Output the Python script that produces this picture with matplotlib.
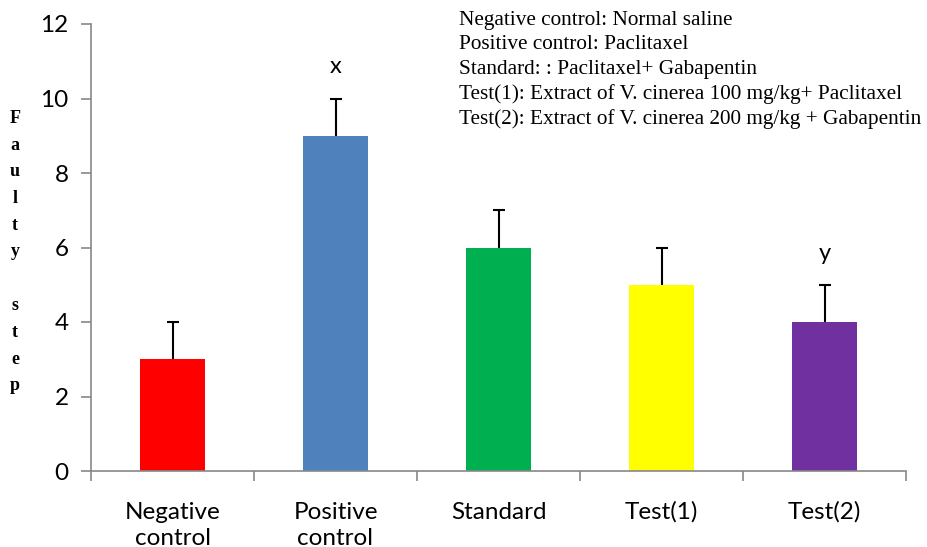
import matplotlib
matplotlib.use("Agg")
import matplotlib.pyplot as plt
import numpy as np

categories = ["Negative\ncontrol", "Positive\ncontrol", "Standard", "Test(1)", "Test(2)"]
values = [3, 9, 6, 5, 4]
errors = [1, 1, 1, 1, 1]
colors = ["#FF0000", "#4F81BD", "#00B050", "#FFFF00", "#7030A0"]
marks = {1: "x", 4: "y"}
legend_lines = [
    "Negative control: Normal saline",
    "Positive control: Paclitaxel",
    "Standard: : Paclitaxel+ Gabapentin",
    "Test(1): Extract of V. cinerea 100 mg/kg+ Paclitaxel",
    "Test(2): Extract of V. cinerea 200 mg/kg + Gabapentin",
]
yticks = [0, 2, 4, 6, 8, 10, 12]

fig = plt.figure(figsize=(9.27, 5.47), dpi=100)
ax = fig.add_axes([91 / 927, 1 - 471 / 547, (906 - 91) / 927, (471 - 24) / 547])

x = np.arange(len(categories))
ax.bar(x, values, width=0.4, color=colors, zorder=2)

# upper-only error bars with caps
tops = np.array(values) + np.array(errors)
ax.vlines(x, values, tops, color="black", linewidth=1.5, zorder=3)
ax.plot(x, tops, linestyle="none", marker="_", markersize=9,
        markeredgewidth=1.5, color="black", zorder=3)

for i, m in marks.items():
    ax.text(x[i], tops[i] + 0.85, m, ha="center", va="center",
            fontsize=17, family="Lato")

ax.set_xlim(-0.5, len(categories) - 0.5)
ax.set_ylim(0, 12)
ax.set_yticks(yticks)
ax.set_yticklabels([str(t) for t in yticks], family="Lato", fontsize=17.5)

# category labels centred, tick marks between categories
ax.set_xticks(np.arange(len(categories) + 1) - 0.5)
ax.set_xticklabels([])
ax.set_xticks(x, minor=True)
ax.set_xticklabels(categories, minor=True, family="Lato", fontsize=17.5,
                   linespacing=1.3, va="top")
ax.tick_params(axis="x", which="minor", length=0, pad=22)
ax.tick_params(axis="x", which="major", length=7, color="#888888", width=1.2)
ax.tick_params(axis="y", length=7, color="#888888", width=1.2, pad=9)

for s in ["top", "right"]:
    ax.spines[s].set_visible(False)
for s in ["left", "bottom"]:
    ax.spines[s].set_color("#888888")
    ax.spines[s].set_linewidth(1.2)

# group descriptions
for k, line in enumerate(legend_lines):
    fig.text(459 / 927, 1 - (20 + 24.8 * k) / 547, line, family="Liberation Serif",
             fontsize=15.3, ha="left", va="center")

# stacked vertical axis title
fig.text(15 / 927, 1 - 252 / 547, "F\na\nu\nl\nt\ny\n\ns\nt\ne\np",
         family="Liberation Serif", fontweight="bold", fontsize=13,
         ha="center", va="center", linespacing=1.75)

fig.savefig("out.png", dpi=100)
